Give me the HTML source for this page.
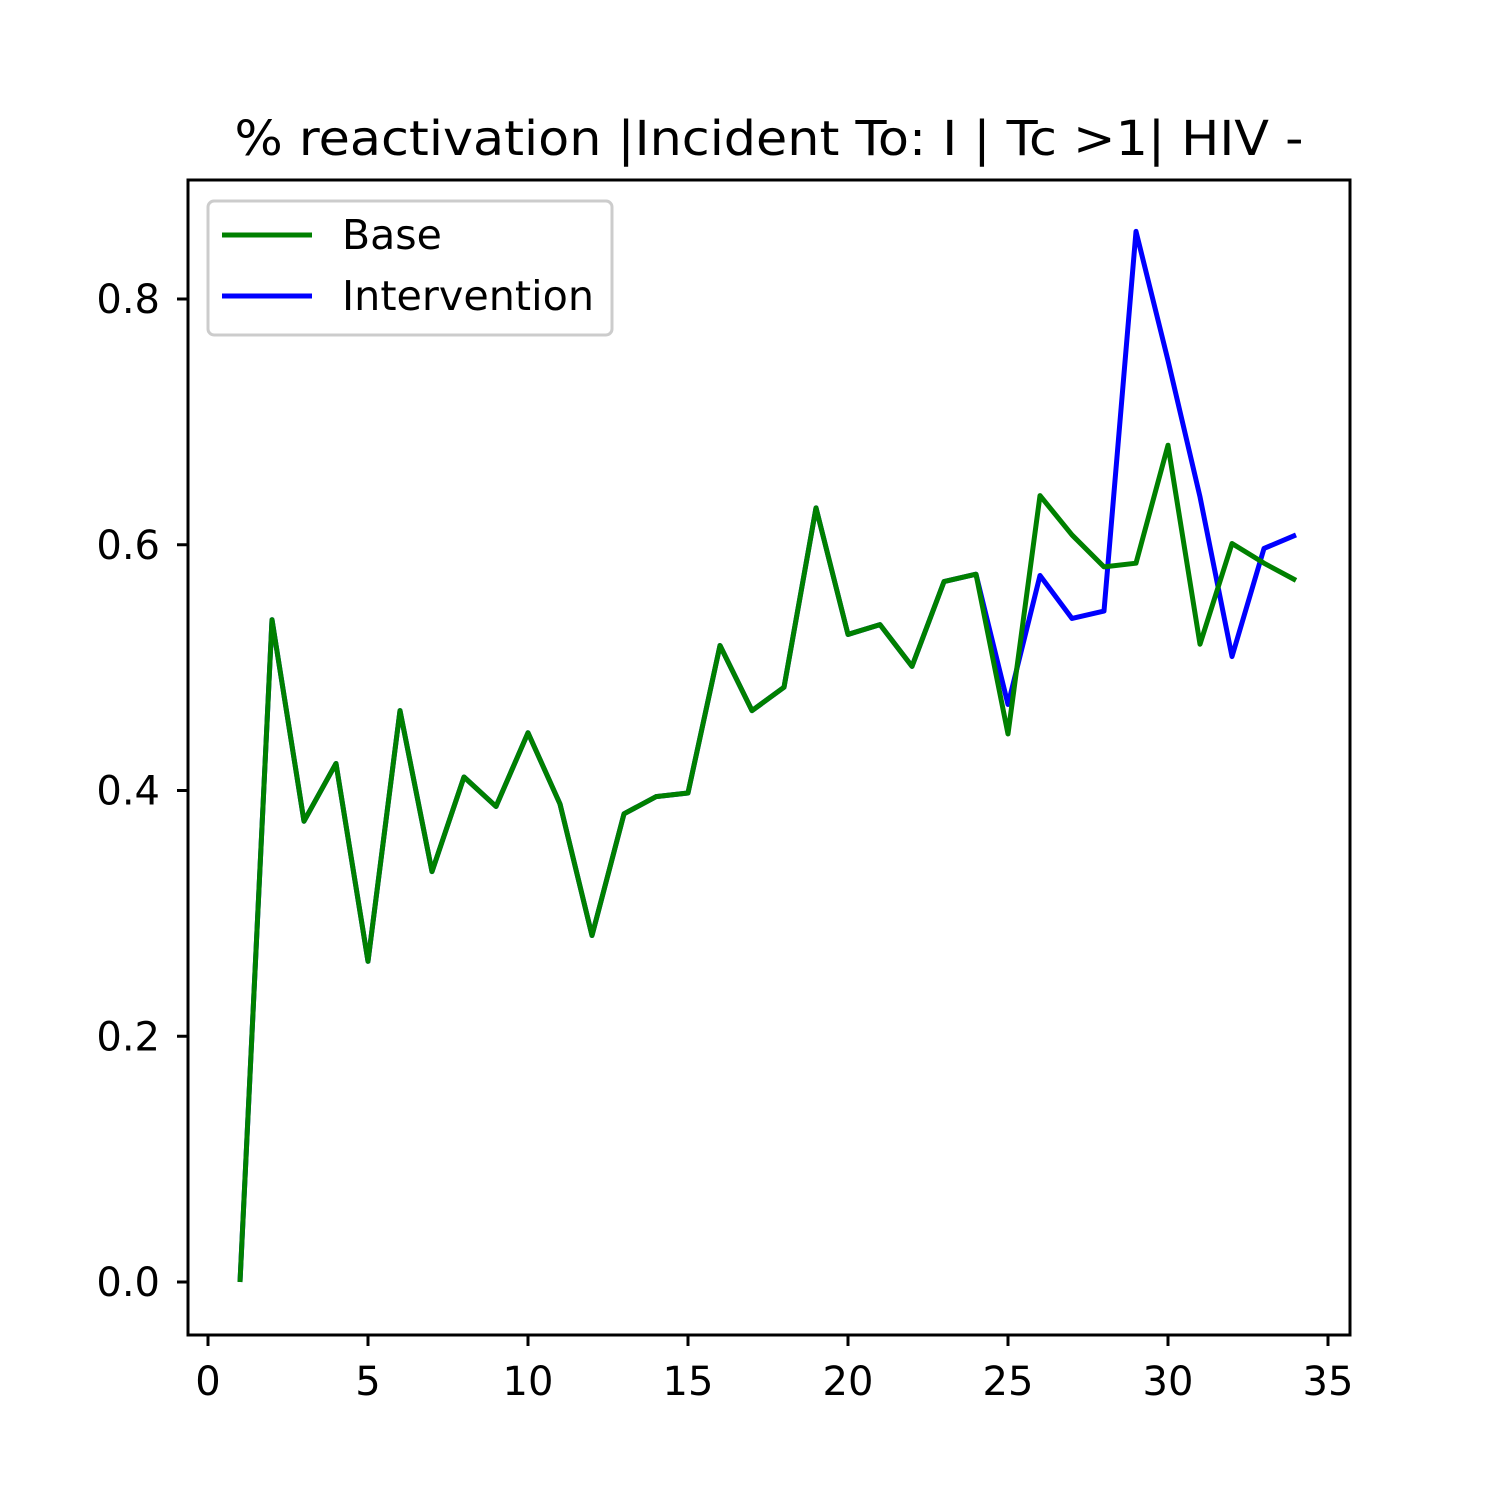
<!DOCTYPE html>
<html><head><meta charset="utf-8"><style>
html,body{margin:0;padding:0;background:#fff;}
svg{display:block;font-family:"DejaVu Sans","Liberation Sans",sans-serif;}
</style></head><body>
<svg id="chart" width="1500" height="1500" viewBox="0 0 1500 1500">
<rect width="1500" height="1500" fill="#fff"/>
<text x="769" y="155" font-size="48" text-anchor="middle" textLength="1069" lengthAdjust="spacingAndGlyphs">% reactivation |Incident To: I | Tc &gt;1| HIV -</text>
<g id="axes"></g>
<g id="lines"></g>
<rect x="188" y="180" width="1162" height="1155" fill="none" stroke="#000" stroke-width="3"/>
<g>
<rect x="208" y="201" width="404" height="134" rx="6" fill="#fff" stroke="#ccc" stroke-width="3"/>
<line x1="222" y1="235" x2="312" y2="235" stroke="green" stroke-width="5"/>
<text x="342" y="249" font-size="41">Base</text>
<line x1="222" y1="296" x2="312" y2="296" stroke="blue" stroke-width="5"/>
<text x="342" y="310" font-size="41" textLength="252" lengthAdjust="spacingAndGlyphs">Intervention</text>
</g>
</svg>
<script>
const xValues = [1,2,3,4,5,6,7,8,9,10,11,12,13,14,15,16,17,18,19,20,21,22,23,24,25,26,27,28,29,30,31,32,33,34];
const baseValues = [0,0.539,0.375,0.422,0.261,0.465,0.334,0.411,0.387,0.447,0.389,0.282,0.381,0.395,0.398,0.518,0.465,0.484,0.630,0.527,0.535,0.501,0.570,0.576,0.446,0.640,0.608,0.582,0.585,0.681,0.519,0.601,0.585,0.571];
const interventionValues = [0,0.539,0.375,0.422,0.261,0.465,0.334,0.411,0.387,0.447,0.389,0.282,0.381,0.395,0.398,0.518,0.465,0.484,0.630,0.527,0.535,0.501,0.570,0.576,0.470,0.575,0.540,0.546,0.855,0.750,0.639,0.509,0.597,0.608];
const xTicks = [0,5,10,15,20,25,30,35];
const yTicks = [0.0,0.2,0.4,0.6,0.8];
const yTickLabels = ["0.0","0.2","0.4","0.6","0.8"];

const NS = "http://www.w3.org/2000/svg";
function xScale(v){return 208 + 32*v;}
function yScale(v){return 1282 - 1228.75*v;}
const axes = document.getElementById('axes');
const lines = document.getElementById('lines');
function mk(tag, attrs, parent){const e=document.createElementNS(NS,tag);for(const k in attrs)e.setAttribute(k,attrs[k]);parent.appendChild(e);return e;}

xTicks.forEach(t=>{
  const x=xScale(t);
  const tk=mk('line',{x1:x,y1:1335,x2:x,y2:1346,stroke:'#000','stroke-width':3},axes);
  
  
  const lb=mk('text',{x:x,y:1395,'font-size':40,'text-anchor':'middle'},axes);
  lb.textContent=String(t);
  
  
});
yTicks.forEach((t,i)=>{
  const y=yScale(t);
  const tk=mk('line',{x1:177,y1:y,x2:188,y2:y,stroke:'#000','stroke-width':3},axes);
  
  
  const lb=mk('text',{x:160,y:y+14,'font-size':40,'text-anchor':'end'},axes);
  lb.textContent=yTickLabels[i];
  
  
});
function pts(vals){return vals.map((v,i)=>xScale(xValues[i])+','+yScale(v)).join(' ');}
const li=mk('polyline',{points:pts(interventionValues),fill:'none',stroke:'blue','stroke-width':5,'stroke-linejoin':'round'},lines);


const lbse=mk('polyline',{points:pts(baseValues),fill:'none',stroke:'green','stroke-width':5,'stroke-linejoin':'round'},lines);


</script>
</body></html>
